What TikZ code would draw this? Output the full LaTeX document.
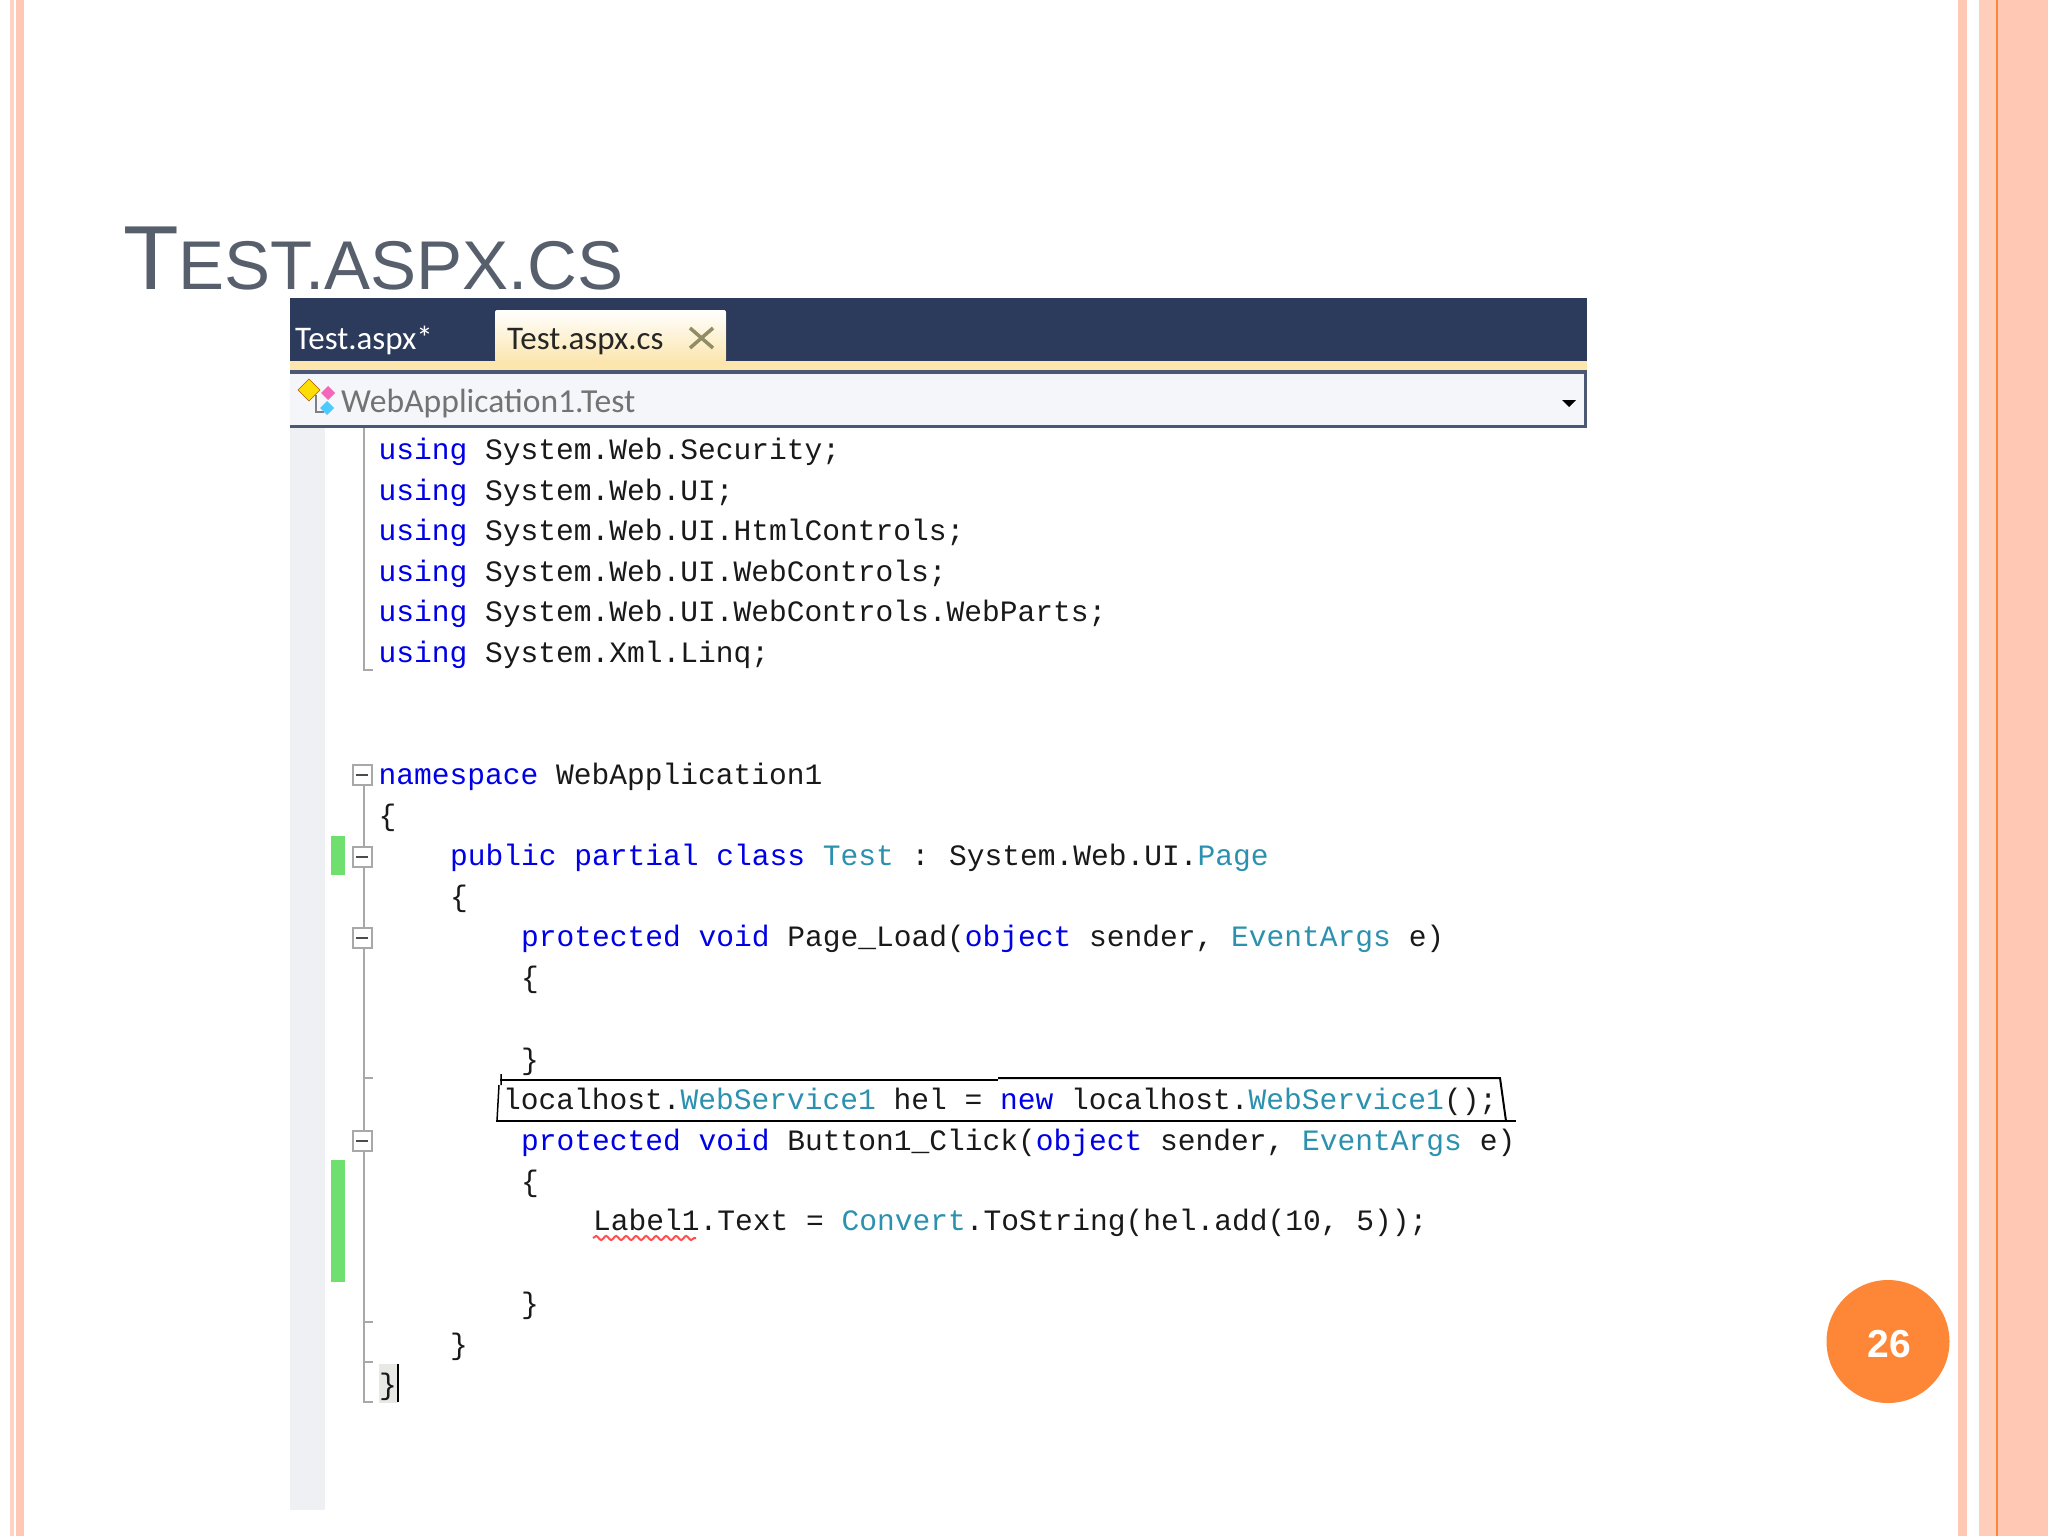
\documentclass[tikz,border=0pt]{standalone}
\usepackage{fontspec}
\usepackage{xcolor}
\usetikzlibrary{decorations.pathmorphing}
\setmainfont{Liberation Sans}
\newfontfamily\codefont{Liberation Mono}
\newfontfamily\tabfont{Carlito}
\definecolor{kwblue}{HTML}{0000E6}
\definecolor{typeteal}{HTML}{2B91AF}
\definecolor{titlegray}{HTML}{575F6D}
\definecolor{barblue}{HTML}{2C3B5B}
\definecolor{foldgray}{HTML}{A8A8A8}
\definecolor{stripe}{HTML}{FFC8B4}
\definecolor{badge}{HTML}{FE8637}
\definecolor{tabyellow}{HTML}{FCE6AE}
\definecolor{barlight}{HTML}{F5F6FA}
\definecolor{margingray}{HTML}{EFF0F3}
\definecolor{changegreen}{HTML}{6FDF6F}
\newcommand{\kw}[1]{\textcolor{kwblue}{#1}}
\newcommand{\tp}[1]{\textcolor{typeteal}{#1}}
\tikzset{
  codeline/.style={anchor=base west,inner sep=0pt,text=black!90,font=\codefont\fontsize{29.58}{34}\selectfont},
  tablabel/.style={anchor=base west,inner sep=0pt,font=\tabfont\fontsize{33}{38}\selectfont},
  foldbox/.style={draw=foldgray,line width=2pt,fill=white,minimum width=19pt,minimum height=20pt,inner sep=0pt},
  foldline/.style={draw=foldgray,line width=2pt}
}
\begin{document}
\begin{tikzpicture}[x=1pt,y=-1pt]
\useasboundingbox (0,0) rectangle (2048,1536);
    % Draw the page stripes
    \fill[stripe!80] (10,0) rectangle (14,1536);
    \fill[stripe] (16,0) rectangle (24,1536);
    \fill[stripe] (1958,0) rectangle (1967,1536);
    \fill[stripe!90] (1979,0) rectangle (1996,1536);
    \fill[badge] (1996,0) rectangle (1998,1536);
    \fill[stripe] (1998,0) rectangle (2048,1536);
    % Title
    \node[anchor=base west,inner sep=0pt,text=titlegray] (title) at (123,289)
      {\fontsize{91}{91}\selectfont T\fontsize{69}{69}\selectfont EST.ASPX.CS};
    % Tab bar
    \fill[barblue] (290,298) rectangle (1587,361);
    \fill[top color=white,bottom color=tabyellow,rounded corners=2pt] (495,310) rectangle (726,362);
    \fill[tabyellow] (290,361) rectangle (1587,370);
    \fill[barblue!85] (290,370) rectangle (1587,374);
    \node[tablabel,text=white] (tabone) at (295,349) {Test.aspx*};
    \node[tablabel,text=black!85] (tabtwo) at (507,349) {Test.aspx.cs};
    \draw[line width=3.5pt,black!50!yellow!60!gray] (690,328) -- (713,348) (690,348) -- (713,328);
    % Class drop down
    \fill[barlight] (290,374) rectangle (1584,425);
    \fill[barblue!85] (290,425) rectangle (1587,428);
    \fill[barblue!85] (1584,374) rectangle (1587,428);
    \fill[black] (1562,400) -- (1576,400) -- (1569,407) -- cycle;
    \draw[line width=1.5pt,gray] (316,395) -- (316,412) -- (324,412);
    \fill[yellow!80!orange,draw=orange!70!black] (298,390) -- (309,379) -- (320,390) -- (309,401) -- cycle;
    \fill[magenta!60] (321,393) -- (328,386) -- (335,393) -- (328,400) -- cycle;
    \fill[blue!30!cyan!70] (320,408) -- (327,401) -- (334,408) -- (327,415) -- cycle;
    \node[tablabel,text=black!55,font=\tabfont\fontsize{33.6}{38}\selectfont] (classname) at (341,412) {WebApplication1.Test};
    % Editor margin
    \fill[margingray] (290,428) rectangle (325,1510);
    \fill[changegreen] (331,836) rectangle (345,875);
    \fill[changegreen] (331,1160) rectangle (345,1282);
    \draw[foldline] (364,428) -- (364,670) -- (373,670);
    \draw[foldline] (364,776) -- (364,1402) -- (373,1402);
    \draw[foldline] (364,1078) -- (373,1078);
    \draw[foldline] (364,1322) -- (373,1322);
    \draw[foldline] (364,1362) -- (373,1362);
    \node[foldbox] (foldns) at (362,775) {};
    \node[foldbox] (foldclass) at (362,857) {};
    \node[foldbox] (foldload) at (362,938) {};
    \node[foldbox] (foldclick) at (362,1141) {};
    \draw[black!70,line width=1.5pt] (356,775) -- (368,775) (356,857) -- (368,857) (356,938) -- (368,938) (356,1141) -- (368,1141);
    % Highlight and caret of the last brace
    \fill[black!10!yellow!8!gray!22] (379,1364) rectangle (398,1403);
    \draw[line width=2pt] (398,1364) -- (398,1402);
    % Code lines
    \node[codeline] (use1) at (378.5,459) {\kw{using} System.Web.Security;};
    \node[codeline] (use2) at (378.5,500) {\kw{using} System.Web.UI;};
    \node[codeline] (use3) at (378.5,540) {\kw{using} System.Web.UI.HtmlControls;};
    \node[codeline] (use4) at (378.5,581) {\kw{using} System.Web.UI.WebControls;};
    \node[codeline] (use5) at (378.5,621) {\kw{using} System.Web.UI.WebControls.WebParts;};
    \node[codeline] (use6) at (378.5,662) {\kw{using} System.Xml.Linq;};
    \node[codeline] (ns) at (378.5,784) {\kw{namespace} WebApplication1};
    \node[codeline] (nsopen) at (378.5,825) {\{};
    \node[codeline] (cls) at (450,865) {\kw{public partial class} \tp{Test} :\hspace{-4pt} System.Web.UI.\tp{Page}};
    \node[codeline] (clsopen) at (450,906) {\{};
    \node[codeline] (load) at (521,946) {\kw{protected void} Page\_Load(\kw{object} sender, \tp{EventArgs} e)};
    \node[codeline] (loadopen) at (521,987) {\{};
    \node[codeline] (loadclose) at (521,1069) {\}};
    \node[codeline] (hel) at (503,1109) {localhost.\tp{WebService1} hel = \kw{new} localhost.\tp{WebService1}();};
    \node[codeline] (click) at (521,1150) {\kw{protected void} Button1\_Click(\kw{object} sender, \tp{EventArgs} e)};
    \node[codeline] (clickopen) at (521,1191) {\{};
    \node[codeline] (lbl) at (593,1230) {Label1.Text = \tp{Convert}.ToString(hel.add(10, 5));};
    \node[codeline] (clickclose) at (521,1313) {\}};
    \node[codeline] (clsclose) at (450,1354) {\}};
    \node[codeline] (nsclose) at (379,1394) {\}};
    % Error squiggle
    \draw[red!70,line width=2pt,decorate,decoration={snake,segment length=10pt,amplitude=2pt}] (593,1238) -- (696,1238);
    % Hand drawn box round the field
    \draw[line width=2pt] (496,1121) -- (1516,1121);
    \draw[line width=2pt] (500,1080) -- (998,1080);
    \draw[line width=2pt] (998,1078) -- (1500,1078) -- (1506,1121);
    \draw[line width=1.5pt] (501,1074) -- (501,1085) (499,1085) -- (497,1121);
    % Page number
    \node[circle,fill=badge,minimum size=123pt,inner sep=0pt] (page) at (1888,1341.5) {};
    \node[inner sep=0pt,text=white,font=\bfseries\fontsize{39}{39}\selectfont] (pagenum) at (1889,1344) {26};
\end{tikzpicture}
\end{document}
